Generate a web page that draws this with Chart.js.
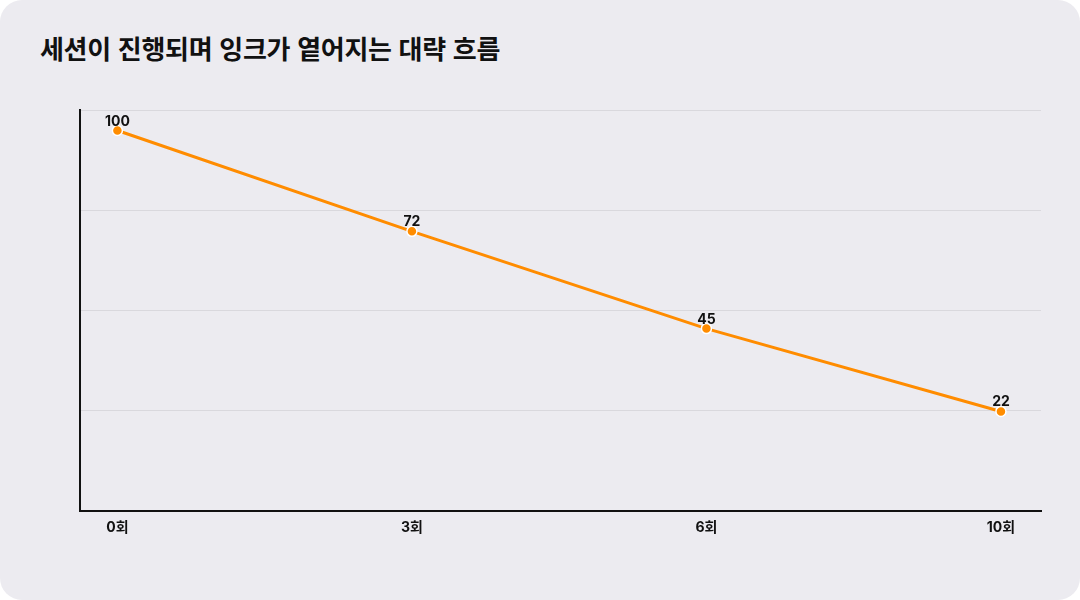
<!DOCTYPE html>
<html lang="ko">
<head>
<meta charset="utf-8">
<script src="https://cdn.jsdelivr.net/npm/chart.js@4/dist/chart.umd.min.js"></script>
<style>
  html, body { margin: 0; padding: 0; background: #ffffff; }
  #card { position: relative; width: 1080px; height: 600px; background: #ECEBF0; border-radius: 22px; overflow: hidden; }
  #title { position: absolute; left: 40px; top: 28px; margin: 0; font-family: "Noto Sans CJK KR", "Noto Sans", sans-serif; font-weight: 700; font-size: 26px; color: #111; letter-spacing: -0.3px; line-height: 40px; }
  #wrap { position: absolute; left: 0; top: 0; width: 1080px; height: 600px; }
</style>
</head>
<body>
<div id="card">
  <h1 id="title">세션이 진행되며 잉크가 옅어지는 대략 흐름</h1>
  <div id="wrap"><canvas id="c" width="1080" height="600"></canvas></div>
</div>
<script>
const categories = ["0회", "3회", "6회", "10회"];
const inkValues = [100, 72, 45, 22];

const FONT = 'Inter, "Noto Sans CJK KR", "Noto Sans", sans-serif';

const valueLabels = {
  id: 'valueLabels',
  afterDatasetsDraw(chart) {
    const ctx = chart.ctx;
    const meta = chart.getDatasetMeta(0);
    ctx.save();
    ctx.font = '700 14px ' + FONT;
    ctx.fillStyle = '#111';
    ctx.textAlign = 'center';
    ctx.textBaseline = 'alphabetic';
    meta.data.forEach((pt, i) => {
      ctx.fillText(String(inkValues[i]), pt.x, pt.y - 5);
    });
    ctx.restore();
  }
};

new Chart(document.getElementById('c'), {
  type: 'line',
  data: {
    datasets: [{
      data: inkValues.map((v, i) => ({ x: i, y: v })),
      borderColor: '#FF8C00',
      backgroundColor: '#FF8C00',
      borderWidth: 3,
      pointRadius: 5,
      pointBorderColor: '#ffffff',
      pointBorderWidth: 1.5,
      pointBackgroundColor: '#FF8C00',
      tension: 0,
      fill: false
    }]
  },
  options: {
    responsive: false,
    animation: false,
    layout: { padding: { left: 80, right: 39, top: 110, bottom: 56 } },
    plugins: { legend: { display: false }, tooltip: { enabled: false }, title: { display: false } },
    scales: {
      x: {
        type: 'linear',
        min: -0.127,
        max: 3.136,
        afterBuildTicks(scale) { scale.ticks = categories.map((_, i) => ({ value: i })); },
        ticks: {
          callback: (v) => categories[v] ?? '',
          font: { family: FONT, size: 14, weight: '700' },
          color: '#111',
          padding: 8,
          maxRotation: 0,
          autoSkip: false
        },
        grid: { display: false, drawTicks: false },
        border: { display: true, color: '#111', width: 2 }
      },
      y: {
        min: -5.7,
        max: 105.7,
        ticks: { display: false, count: 5 },
        grid: { color: '#D9D8DD', lineWidth: 1, drawTicks: false },
        border: { display: true, color: '#111', width: 2 }
      }
    }
  },
  plugins: [valueLabels]
});
</script>
</body>
</html>
